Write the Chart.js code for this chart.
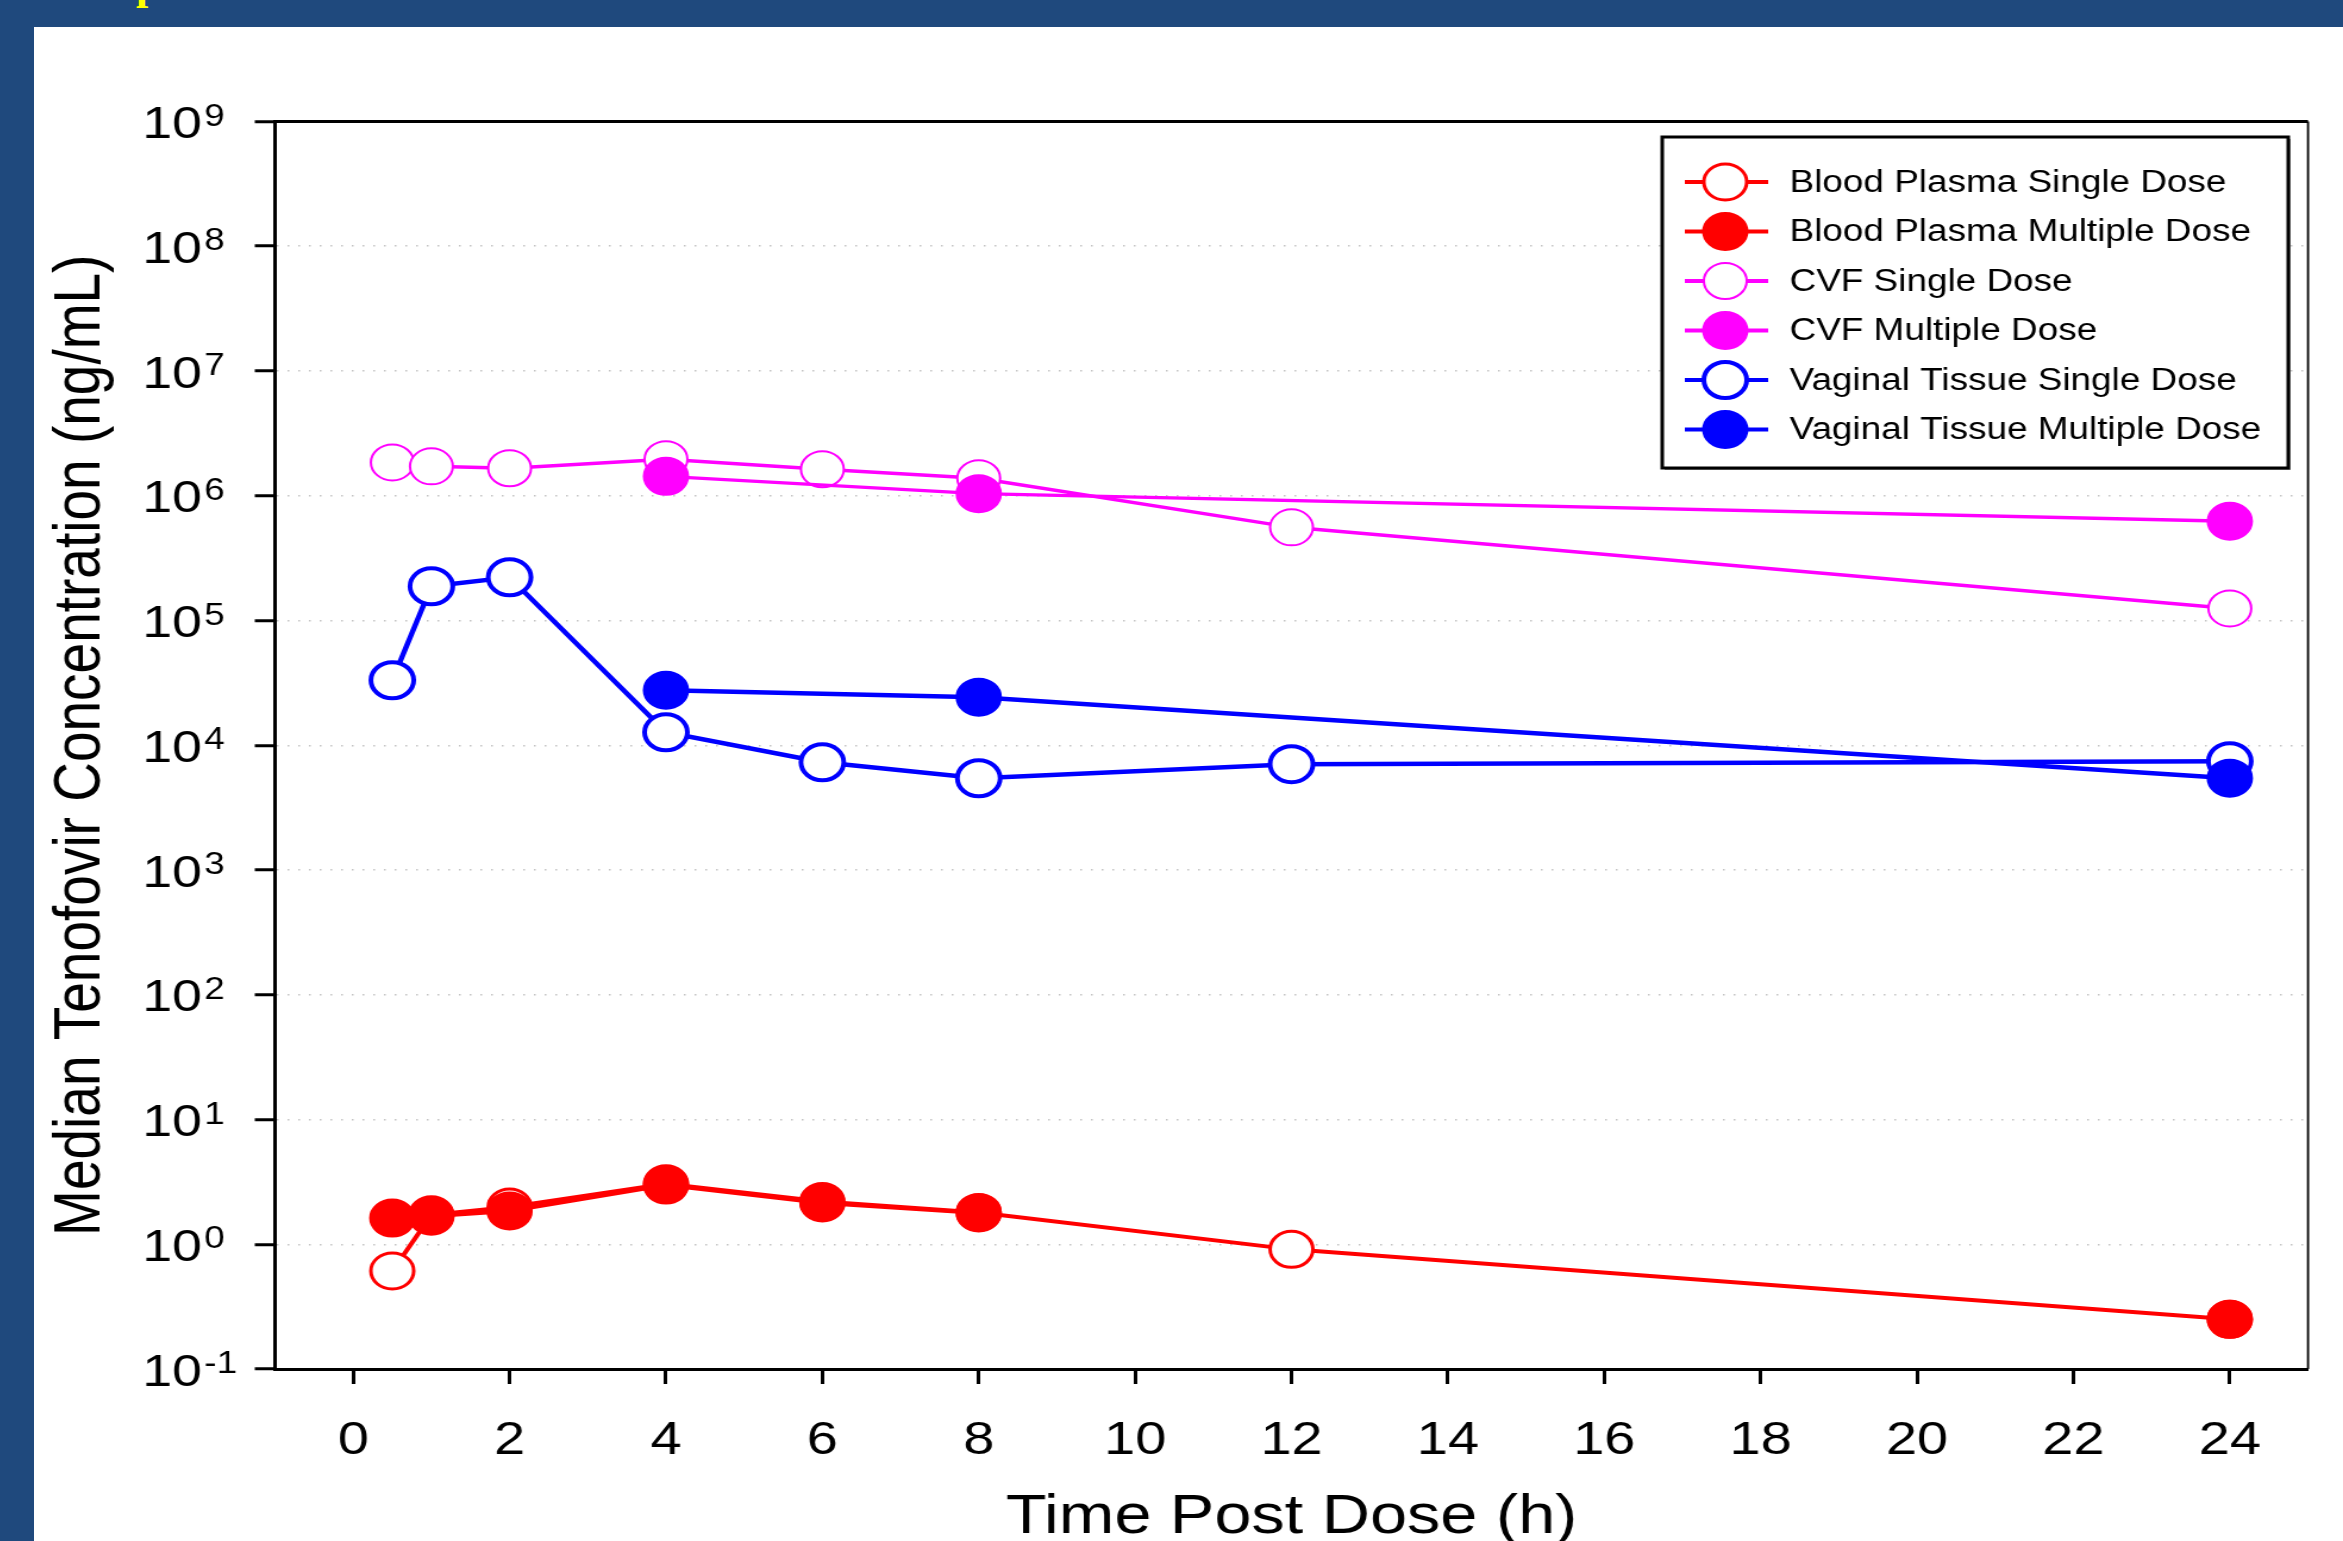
<!DOCTYPE html>
<html>
<head>
<meta charset="utf-8">
<script src="https://cdn.jsdelivr.net/npm/chart.js@4.4.1/dist/chart.umd.min.js"></script>
<style>
  html, body { margin: 0; padding: 0; }
  body {
    width: 2343px;
    height: 1541px;
    overflow: hidden;
    position: relative;
    background: #1f497d;
  }
  #cap {
    position: absolute;
    left: 136px;
    top: -37px;
    font: bold 44px "Liberation Serif", "Times New Roman", serif;
    line-height: 44px;
    color: #ffff00;
  }
  #panel {
    position: absolute;
    left: 34px;
    top: 27px;
    width: 2309px;
    height: 1514px;
    background: #fff;
  }
  #chart { display: block; }
</style>
</head>
<body>
<div id="cap">p</div>
<div id="panel">
  <!-- the source picture is stretched sideways, so the canvas is too -->
  <canvas id="chart" width="1940" height="1514" style="width:2309px;height:1514px"></canvas>
</div>

<script>
// ticks
const xTicks = [0, 2, 4, 6, 8, 10, 12, 14, 16, 18, 20, 22, 24];
const yTickValues = [0.1, 1, 10, 1e2, 1e3, 1e4, 1e5, 1e6, 1e7, 1e8, 1e9];
const yTickExponents = ['-1', '0', '1', '2', '3', '4', '5', '6', '7', '8', '9'];

// median tenofovir concentration (ng/mL) by time post dose (h)
// null = no line drawn across that stretch
const plasmaSingleTimes = [0.5, 1, 2, 4, 6, 8, 12, 24];
const plasmaSingle = [0.61, 1.72, 1.99, 3.05, 2.2, 1.8, 0.91, 0.25];
const plasmaMultipleTimes = [0.5, 1, 2, 4, 6, 8, 12, 24];
const plasmaMultiple = [1.62, 1.68, 1.85, 2.98, 2.14, 1.78, null, 0.25];

const cvfSingleTimes = [0.5, 1, 2, 4, 6, 8, 12, 24];
const cvfSingle = [1.85e6, 1.72e6, 1.66e6, 1.96e6, 1.63e6, 1.38e6, 5.58e5, 1.25e5];
const cvfMultipleTimes = [4, 8, 24];
const cvfMultiple = [1.43e6, 1.04e6, 6.24e5];

const tissueSingleTimes = [0.5, 1, 2, 4, 6, 8, 12, 24];
const tissueSingle = [3.32e4, 1.88e5, 2.22e5, 1.27e4, 7.3e3, 5.44e3, 7.05e3, 7.45e3];
const tissueMultipleTimes = [4, 8, 24];
const tissueMultiple = [2.76e4, 2.43e4, 5.45e3];

const FONT = '"Liberation Sans", Arial, sans-serif';
Chart.defaults.font.family = FONT;
Chart.defaults.color = '#000';

function points(times, values) {
    return times.map((t, i) => ({ x: t, y: values[i] }));
}

function series(label, times, values, color, filled, lineWidth, ringWidth) {
    return {
        label: label,
        data: points(times, values),
        borderColor: color,
        borderWidth: lineWidth,
        pointRadius: 18,
        pointHoverRadius: 18,
        pointBackgroundColor: filled ? color : '#fff',
        pointBorderColor: color,
        pointBorderWidth: filled ? 3 : ringWidth,
        order: filled ? 0 : 1,
        spanGaps: false,
        tension: 0
    };
}

// outer frame: top and right edges of the plot
const framePlugin = {
    id: 'frame',
    beforeDatasetsDraw(chart) {
        const { ctx, chartArea: a } = chart;
        ctx.save();
        ctx.strokeStyle = '#000';
        ctx.lineWidth = 3;
        ctx.beginPath();
        ctx.moveTo(a.left, a.top);
        ctx.lineTo(a.right, a.top);
        ctx.stroke();
        ctx.lineWidth = 1.8;
        ctx.beginPath();
        ctx.moveTo(a.right, a.top);
        ctx.lineTo(a.right, a.bottom);
        ctx.stroke();
        ctx.restore();
    }
};

// 10^n labels with a raised exponent
const powerLabelsPlugin = {
    id: 'powerLabels',
    afterDraw(chart) {
        const { ctx } = chart;
        const y = chart.scales.y;
        ctx.save();
        ctx.fillStyle = '#000';
        ctx.textAlign = 'left';
        ctx.textBaseline = 'alphabetic';
        yTickValues.forEach((v, i) => {
            const py = y.getPixelForValue(v);
            ctx.font = '45px ' + FONT;
            ctx.fillText('10', 91, py + 16.5);
            const w = ctx.measureText('10').width;
            ctx.font = '31px ' + FONT;
            ctx.fillText(yTickExponents[i], 91 + w + 2, py + 4);
        });
        ctx.restore();
    }
};

// boxed legend in the upper right of the plot
const boxLegendPlugin = {
    id: 'boxLegend',
    afterDraw(chart) {
        const ctx = chart.ctx;
        const left = 1368, top = 110, right = 1894, bottom = 441;
        ctx.save();
        ctx.fillStyle = '#8c8c8c';
        ctx.fillRect(left + 2, top + 2, right - left, bottom - top);
        ctx.fillStyle = '#fff';
        ctx.fillRect(left, top, right - left, bottom - top);
        ctx.strokeStyle = '#000';
        ctx.lineWidth = 3;
        ctx.strokeRect(left, top, right - left, bottom - top);

        chart.data.datasets.forEach((ds, i) => {
            const cy = 155 + i * 49.5;
            ctx.strokeStyle = ds.borderColor;
            ctx.lineWidth = 4;
            ctx.beginPath();
            ctx.moveTo(1387, cy);
            ctx.lineTo(1457, cy);
            ctx.stroke();

            ctx.beginPath();
            ctx.arc(1421, cy, 18, 0, Math.PI * 2);
            ctx.fillStyle = ds.pointBackgroundColor;
            ctx.fill();
            ctx.lineWidth = ds.pointBorderWidth;
            ctx.strokeStyle = ds.pointBorderColor;
            ctx.stroke();

            ctx.fillStyle = '#000';
            ctx.font = '31px ' + FONT;
            ctx.textAlign = 'left';
            ctx.textBaseline = 'middle';
            ctx.fillText(ds.label, 1475, cy + 1);
        });
        ctx.restore();
    }
};

const chart = new Chart(document.getElementById('chart'), {
    type: 'line',
    data: {
        datasets: [
            series('Blood Plasma Single Dose', plasmaSingleTimes, plasmaSingle, '#ff0000', false, 4, 3),
            series('Blood Plasma Multiple Dose', plasmaMultipleTimes, plasmaMultiple, '#ff0000', true, 4, 3),
            series('CVF Single Dose', cvfSingleTimes, cvfSingle, '#ff00ff', false, 3.5, 2),
            series('CVF Multiple Dose', cvfMultipleTimes, cvfMultiple, '#ff00ff', true, 3.5, 2),
            series('Vaginal Tissue Single Dose', tissueSingleTimes, tissueSingle, '#0000ff', false, 4.5, 4),
            series('Vaginal Tissue Multiple Dose', tissueMultipleTimes, tissueMultiple, '#0000ff', true, 4.5, 4)
        ]
    },
    options: {
        responsive: false,
        devicePixelRatio: 1,
        animation: false,
        events: [],
        layout: {
            padding: { left: 0, top: 94.5, right: 29.4, bottom: 0 }
        },
        scales: {
            x: {
                type: 'linear',
                min: -1,
                max: 25,
                afterBuildTicks: (scale) => {
                    scale.ticks = xTicks.map(v => ({ value: v }));
                },
                afterFit: (scale) => {
                    scale.height = 172;
                },
                ticks: {
                    autoSkip: false,
                    maxRotation: 0,
                    padding: 29,
                    color: '#000',
                    font: { size: 47 },
                    callback: (v) => String(v)
                },
                grid: {
                    drawOnChartArea: false,
                    drawTicks: true,
                    tickLength: 15,
                    tickWidth: 3,
                    tickColor: '#000'
                },
                border: { display: true, color: '#000', width: 3 },
                title: {
                    display: true,
                    text: 'Time Post Dose (h)',
                    color: '#000',
                    font: { size: 56, lineHeight: 1 },
                    padding: { top: 0, bottom: -5 }
                }
            },
            y: {
                type: 'logarithmic',
                min: 0.1,
                max: 1e9,
                afterBuildTicks: (scale) => {
                    scale.ticks = yTickValues.map(v => ({ value: v, major: true }));
                },
                afterFit: (scale) => {
                    scale.width = 202.5;
                },
                ticks: { display: false },
                grid: {
                    color: '#c4c4c4',
                    lineWidth: 1.5,
                    drawTicks: true,
                    tickLength: 17,
                    tickWidth: 3,
                    tickColor: '#000',
                    tickBorderDash: []
                },
                border: { display: true, color: '#000', width: 3, dash: [1.5, 7.5] },
                title: {
                    display: true,
                    text: 'Median Tenofovir Concentration (ng/mL)',
                    color: '#000',
                    font: { size: 55, lineHeight: 1.2 },
                    padding: { top: 7, bottom: 0 }
                }
            }
        },
        plugins: {
            legend: { display: false },
            tooltip: { enabled: false }
        }
    },
    plugins: [framePlugin, powerLabelsPlugin, boxLegendPlugin]
});
</script>
</body>
</html>
